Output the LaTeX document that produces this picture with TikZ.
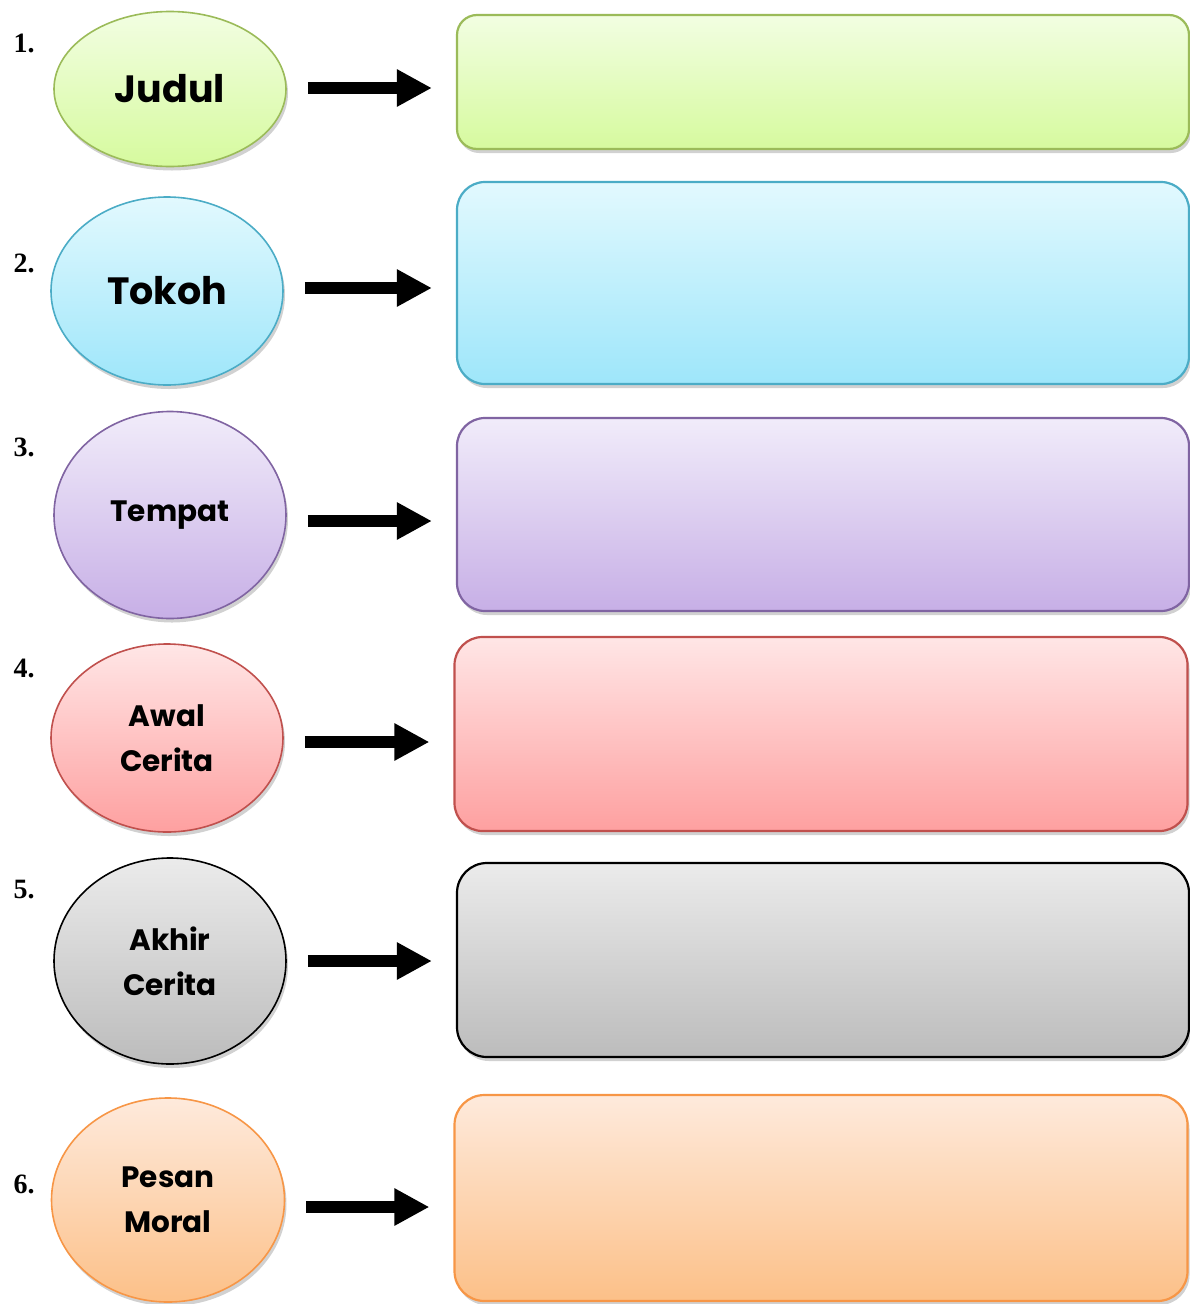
\documentclass[tikz,border=0pt]{standalone}
\usepackage{fontspec}
\newfontfamily\comic{Poppins}
\newfontfamily\tnr{Liberation Serif}
\usetikzlibrary{arrows.meta,shapes.geometric,shadows}
\definecolor{gTop}{HTML}{F2FEE2}\definecolor{gBot}{HTML}{D6FA9E}\definecolor{gLine}{HTML}{9BBB59}
\definecolor{bTop}{HTML}{E2F9FE}\definecolor{bBot}{HTML}{9EE6FA}\definecolor{bLine}{HTML}{4BACC6}
\definecolor{pTop}{HTML}{F1ECFA}\definecolor{pBot}{HTML}{C7AFE6}\definecolor{pLine}{HTML}{8064A2}
\definecolor{rTop}{HTML}{FFE6E6}\definecolor{rBot}{HTML}{FEA0A0}\definecolor{rLine}{HTML}{C0504D}
\definecolor{kTop}{HTML}{EBEBEB}\definecolor{kBot}{HTML}{BCBCBC}\definecolor{kLine}{HTML}{000000}
\definecolor{oTop}{HTML}{FEEADC}\definecolor{oBot}{HTML}{FCC088}\definecolor{oLine}{HTML}{F79646}
\tikzset{
  x=1pt, y=-1pt,
  shad/.style={drop shadow={shadow xshift=2pt, shadow yshift=-4pt, opacity=0.18, fill=black}},
  oval/.style n args={3}{ellipse, draw=#3, line width=1.6pt, top color=#1, bottom color=#2,
     inner sep=0pt, shad, align=center, font=\comic\bfseries\fontsize{29.5}{45}\selectfont},
  panel/.style n args={4}{rectangle, draw=#3, line width=2.2pt, top color=#1, bottom color=#2,
     rounded corners=#4, inner sep=0pt, shad},
  arr/.style={line width=12pt, -{Triangle[length=35pt,width=35pt]}, shorten <=21pt, shorten >=24pt},
  num/.style={font=\tnr\bfseries\fontsize{28}{28}\selectfont, anchor=base west},
  big/.style={font=\comic\bfseries\fontsize{38}{38}\selectfont},
}
\begin{document}
\begin{tikzpicture}
\useasboundingbox (0,0) rectangle (1190,1304);
% ellipses
\node[oval={gTop}{gBot}{gLine}, minimum width=232pt, minimum height=155pt, big] (e1) at (170,89) {Judul};
\node[oval={bTop}{bBot}{bLine}, minimum width=232pt, minimum height=188pt, big] (e2) at (167,291) {Tokoh};
\node[oval={pTop}{pBot}{pLine}, minimum width=232pt, minimum height=207pt] (e3) at (170,515) {Tempat};
\node[oval={rTop}{rBot}{rLine}, minimum width=232pt, minimum height=188pt] (e4) at (167,738) {Awal\\Cerita};
\node[oval={kTop}{kBot}{kLine}, minimum width=232pt, minimum height=206pt] (e5) at (170,961) {Akhir\\Cerita};
\node[oval={oTop}{oBot}{oLine}, minimum width=233pt, minimum height=204pt] (e6) at (168,1200) {Pesan\\Moral};
% panels
\node[panel={gTop}{gBot}{gLine}{20pt}, minimum width=732pt, minimum height=134pt] (b1) at (823,82) {};
\node[panel={bTop}{bBot}{bLine}{28pt}, minimum width=732pt, minimum height=202pt] (b2) at (823,283) {};
\node[panel={pTop}{pBot}{pLine}{28pt}, minimum width=732pt, minimum height=193pt] (b3) at (823,514.5) {};
\node[panel={rTop}{rBot}{rLine}{28pt}, minimum width=733pt, minimum height=194pt] (b4) at (821,734) {};
\node[panel={kTop}{kBot}{kLine}{30pt}, minimum width=732pt, minimum height=194pt] (b5) at (823,960) {};
\node[panel={oTop}{oBot}{oLine}{30pt}, minimum width=733pt, minimum height=206pt] (b6) at (821,1198) {};
% numbers
\node[num] (n1) at (10,52) {1.};
\node[num] (n2) at (10,272) {2.};
\node[num] (n3) at (10,456) {3.};
\node[num] (n4) at (10,677) {4.};
\node[num] (n5) at (10,898) {5.};
\node[num] (n6) at (10,1193) {6.};
% arrows
\draw[arr] ([yshift=1pt]e1.east) -- ([yshift=-6pt]b1.west);
\draw[arr] ([yshift=3pt]e2.east) -- ([yshift=-5pt]b2.west);
\draw[arr] ([yshift=-6pt]e3.east) -- ([yshift=-6.5pt]b3.west);
\draw[arr] ([yshift=-4pt]e4.east) -- ([yshift=-8pt]b4.west);
\draw[arr] (e5.east) -- ([yshift=-1pt]b5.west);
\draw[arr] ([yshift=-7pt]e6.east) -- ([yshift=-9pt]b6.west);
\end{tikzpicture}
\end{document}
